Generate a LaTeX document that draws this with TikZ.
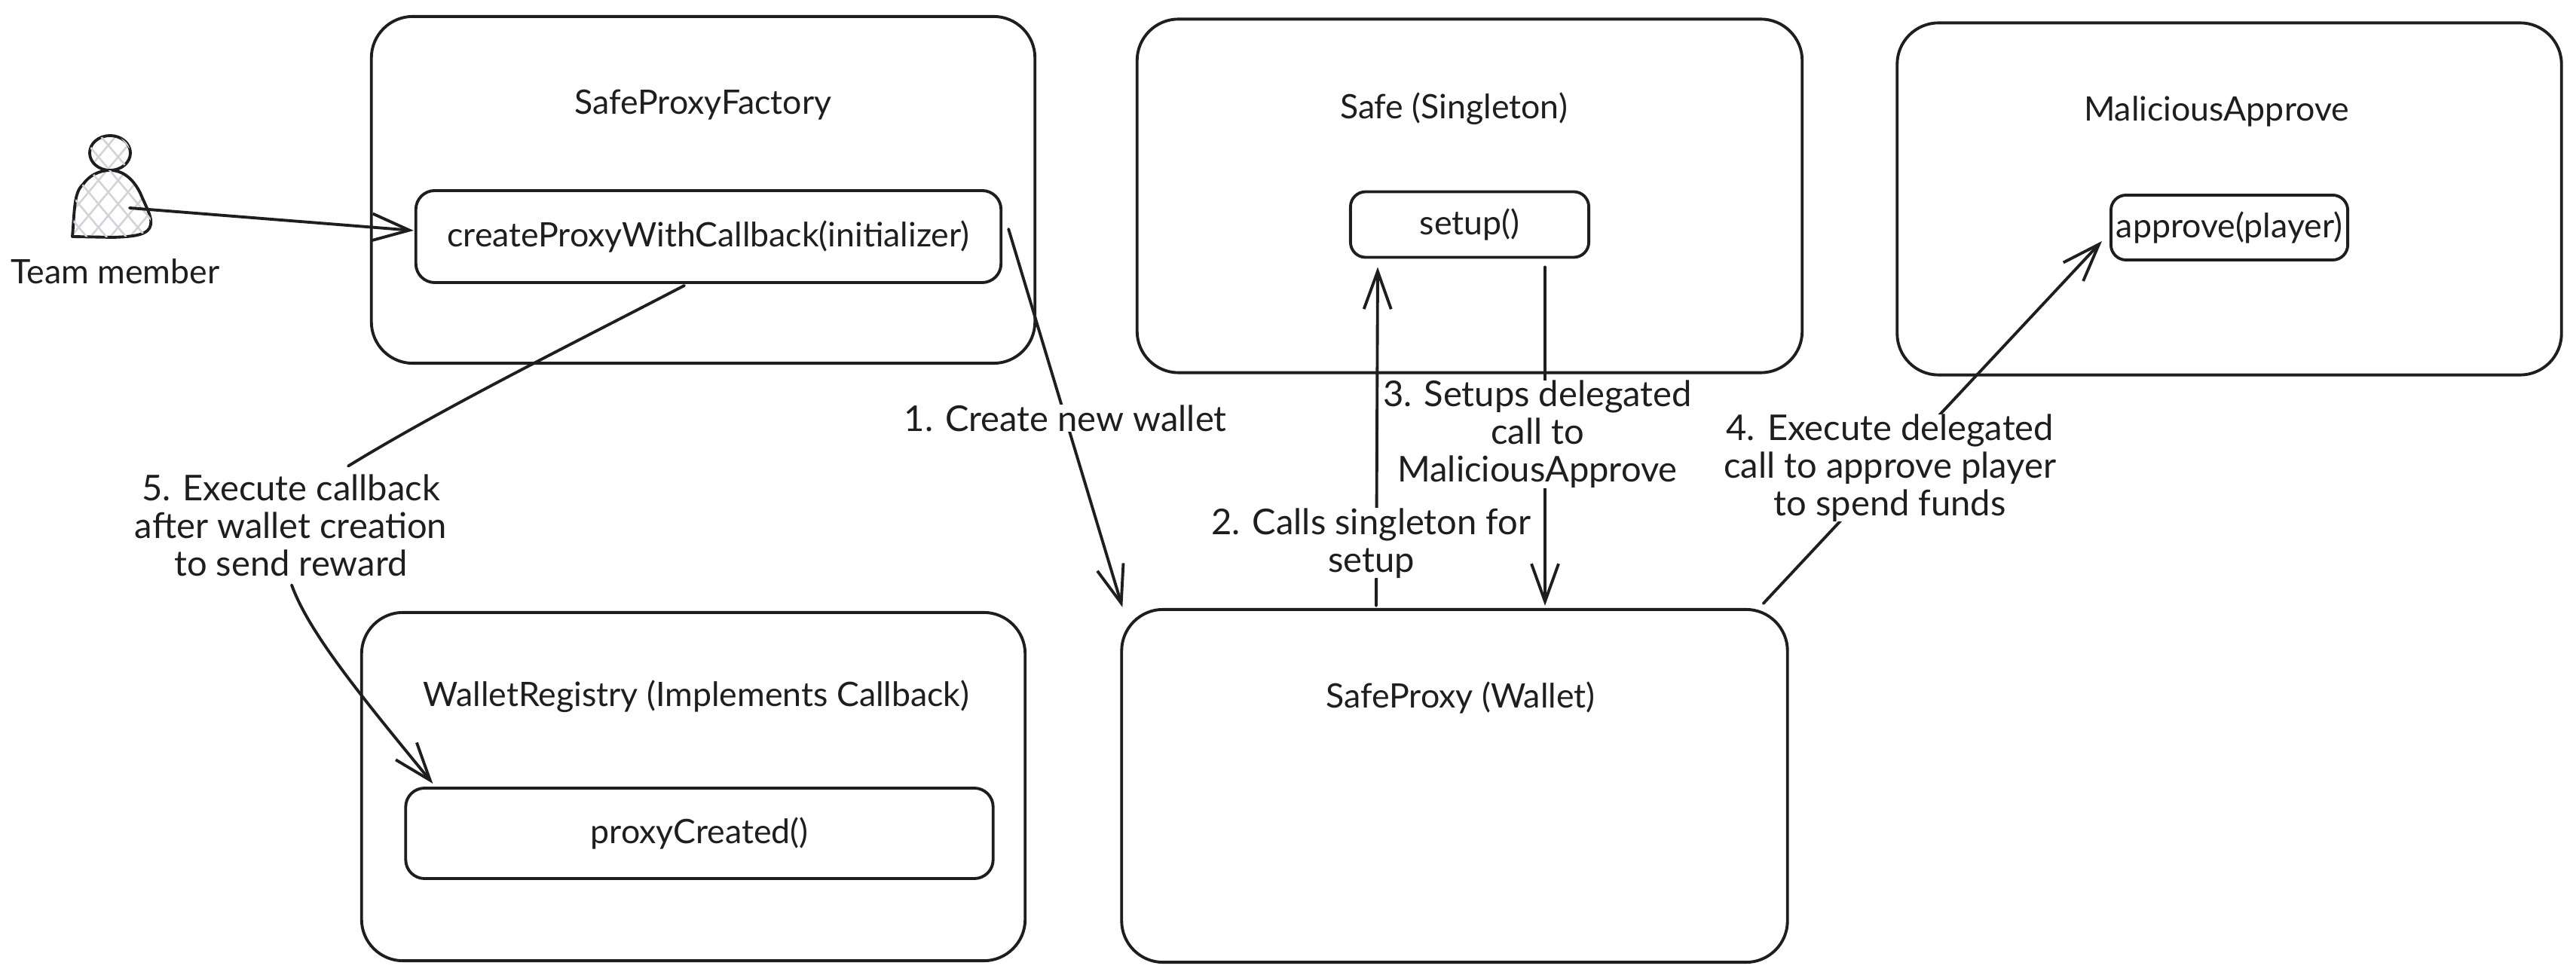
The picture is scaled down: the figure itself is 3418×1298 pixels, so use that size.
\documentclass[tikz,border=0pt]{standalone}
\usepackage{fontspec}
\setmainfont{Lato}
\usetikzlibrary{positioning,calc,arrows.meta,patterns.meta,shapes.geometric}
\definecolor{inkBlack}{HTML}{1E1E1E}
\definecolor{hatchGrey}{HTML}{CED4DA}

\begin{document}
\begin{tikzpicture}[
	x=0.01cm, y=-0.01cm,
	font=\fontsize{12.7}{14.2}\selectfont,
	color=inkBlack,
	>={Straight Barb[length=5mm,width=3.6mm,line width=1.1pt]},
	line cap=round,
	line join=round,
	line width=1.1pt
	]
	% Node styles
	\tikzset{
		outerbox/.style={rectangle, draw, rounded corners=5.5mm},
		innerbox/.style={rectangle, draw, rounded corners=2.5mm, align=center, inner xsep=1pt},
		smallbox/.style={innerbox, rounded corners=2mm},
		steplabel/.style={fill=white, align=center, inner sep=0pt, font=\fontsize{13.4}{14.2}\selectfont},
		hatched/.style={
			preaction={draw=none, pattern={Lines[angle=50,distance=2mm,line width=0.25mm]}, pattern color=hatchGrey},
			postaction={draw=none, pattern={Lines[angle=-50,distance=2mm,line width=0.25mm]}, pattern color=hatchGrey}}
	}
	
	\useasboundingbox (0,0) rectangle (3418,1298);
	
	% ===== Boxes =====
	\node[outerbox, minimum width=8.80cm, minimum height=4.60cm] (factory) at (933,252) {};
	\node[outerbox, minimum width=8.82cm, minimum height=4.69cm] (safe) at (1950,260) {};
	\node[outerbox, minimum width=8.81cm, minimum height=4.67cm] (malicious) at (2958,264) {};
	\node[outerbox, minimum width=8.80cm, minimum height=4.62cm] (registry) at (920,1044) {};
	\node[outerbox, minimum width=8.83cm, minimum height=4.68cm] (proxy) at (1930,1043) {};
	
	\node (factorytitle) at (933,139) {SafeProxyFactory};
	\node (safetitle) at (1929,144) {Safe (Singleton)};
	\node (malicioustitle) at (2941,148) {MaliciousApprove};
	\node (registrytitle) at (924,924) {WalletRegistry (Implements Callback)};
	\node (proxytitle) at (1938,926) {SafeProxy (Wallet)};
	
	\node[innerbox, minimum width=7.76cm, minimum height=1.22cm] (create) at (940,314) {createProxyWithCallback(initializer)};
	\node[smallbox, minimum width=3.16cm, minimum height=0.87cm] (setup) at (1950,298) {setup()};
	\node[smallbox, minimum width=3.14cm, minimum height=0.86cm] (approve) at (2958,302) {approve(player)};
	\node[innerbox, minimum width=7.79cm, minimum height=1.20cm] (created) at (928,1106) {proxyCreated()};
	
	% ===== Team member =====
	\node[ellipse, draw, hatched, minimum width=0.54cm, minimum height=0.46cm, inner sep=0pt] (head) at (146,203) {};
	\draw[hatched] (96,314) .. controls (99,280) and (98,255) .. (110,245)
		.. controls (118,233) and (132,226) .. (146,226)
		.. controls (165,226) and (178,240) .. (186,256)
		.. controls (194,275) and (202,288) .. (200,298)
		.. controls (198,312) and (178,314) .. (150,315) -- cycle;
	\coordinate (member) at (172,276);
	\node (memberlabel) at (153,360) {Team member};
	
	% ===== Arrows + labels =====
	\draw[->] (member) -- ([shift={(-1,-8)}]create.west);
	
	% 1. create wallet
	\draw[->] ([shift={(8,-10)}]create.east) -- ([shift={(3,-1)}]proxy.north west)
		node[steplabel, midway] (step1) {1. Create new wallet};
	
	% 2. + 3. singleton calls
	\draw[->] ([shift={(-104,-3)}]proxy.north) -- ([shift={(-122,11)}]setup.south)
		node[steplabel, pos=0.185, xshift=-0.07cm] (step2) {2. Calls singleton for\\setup};
	\draw[->] ([shift={(100,11)}]setup.south) -- ([shift={(120,-3)}]proxy.north)
		node[steplabel, pos=0.494, xshift=-0.10cm] (step3) {3. Setups delegated\\call to\\MaliciousApprove};
	
	% 4. delegated call
	\draw[->] ([shift={(-34,-6)}]proxy.north east) -- ([shift={(-10,18)}]approve.west)
		node[steplabel, pos=0.374] (step4) {4. Execute delegated\\call to approve player\\to spend funds};
	
	% 5. callback
	\node[align=center, inner sep=0pt, font=\fontsize{13.4}{14.2}\selectfont] (step5) at (386,697) {5. Execute callback\\after wallet creation\\to send reward};
	\draw ([shift={(-32,2)}]create.south) .. controls (768,452) and (590,540) .. ([shift={(76,-9)}]step5.north);
	\draw[->] ([shift={(1,10)}]step5.south) .. controls (410,840) and (480,925) .. ([shift={(38,-4)}]created.north west);
	
\end{tikzpicture}
\end{document}
